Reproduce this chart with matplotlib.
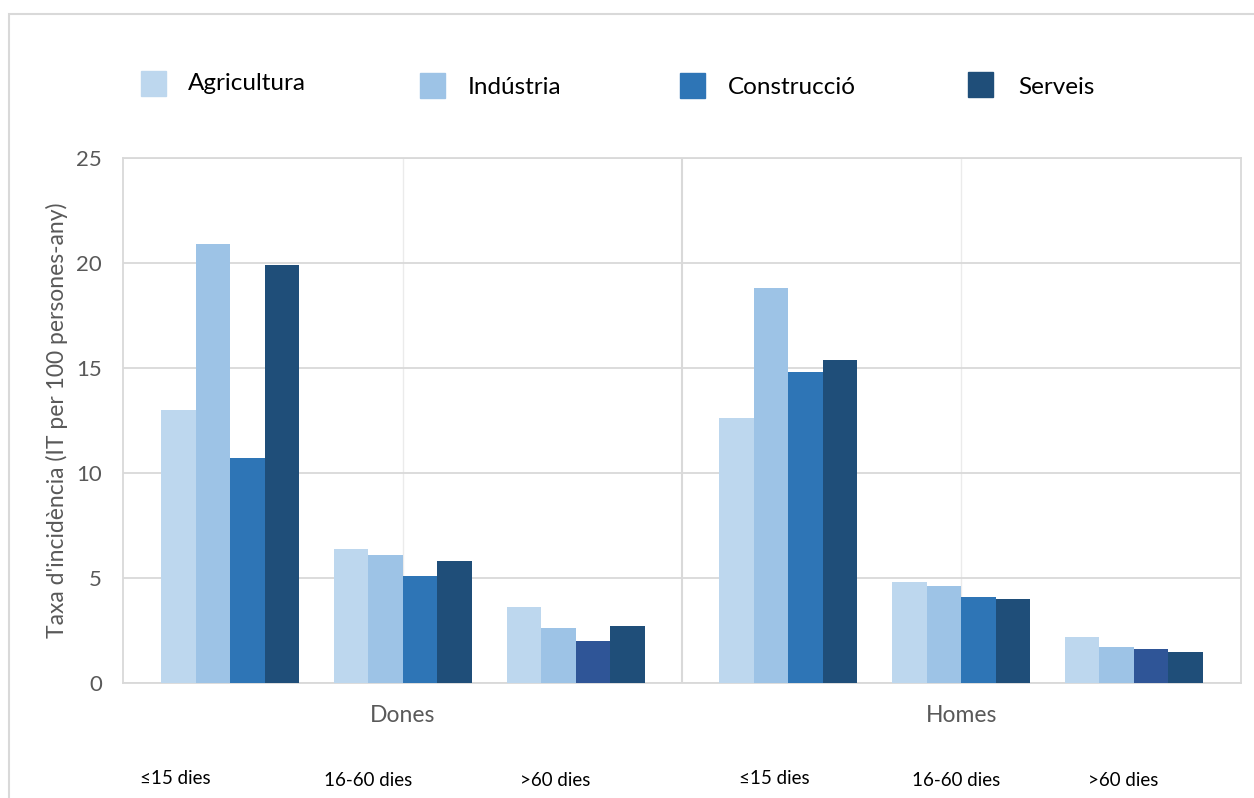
import matplotlib.pyplot as plt
import numpy as np

plt.rcParams['font.family'] = ['Lato', 'DejaVu Sans']

sectors = ['Agricultura', 'Indústria', 'Construcció', 'Serveis']
durations = ['≤15 dies', '16-60 dies', '>60 dies']
sexes = ['Dones', 'Homes']

# rows: ≤15, 16-60, >60 ; columns: sectors
dones = [[13.0, 20.9, 10.7, 19.9],
         [6.4, 6.1, 5.1, 5.8],
         [3.6, 2.6, 2.0, 2.7]]
homes = [[12.6, 18.8, 14.8, 15.4],
         [4.8, 4.6, 4.1, 4.0],
         [2.2, 1.7, 1.6, 1.5]]

colors = ['#BDD7EE', '#9DC3E6', '#2E75B6', '#1F4E79']
long_constr = '#2F5597'  # construcció bar in the >60 groups

grid_c = '#D9D9D9'
text_c = '#595959'

fig = plt.figure(figsize=(12.54, 7.98), dpi=100)
ax = fig.add_axes([123 / 1254, 1 - 683 / 798, (1241 - 123) / 1254, (683 - 158) / 798])

gap = 1.231
centers = np.array([0, 1, 2, gap + 2, gap + 3, gap + 4])
w = 0.2
values = np.array(dones + homes)
for j in range(4):
    cols = [colors[j]] * 6
    if j == 2:
        cols[2] = long_constr
        cols[5] = long_constr
    ax.bar(centers + (j - 1.5) * w, values[:, j], width=w, color=cols, linewidth=0, zorder=3)

ax.set_xlim(-0.62, centers[-1] + 0.62)
ax.set_ylim(0, 25)
ax.set_yticks(range(0, 26, 5))
ax.set_xticks([])
ax.yaxis.grid(True, color=grid_c, linewidth=1.3, zorder=0)
for xv in [centers[1], centers[4]]:
    ax.axvline(xv, color='#EBEBEB', linewidth=1.0, zorder=0)
ax.axvline((centers[2] + centers[3]) / 2, color=grid_c, linewidth=1.5, zorder=1)
for s in ax.spines.values():
    s.set_color(grid_c)
    s.set_linewidth(1.3)
ax.tick_params(axis='y', length=0, labelsize=16, labelcolor=text_c, pad=15)
ax.set_ylabel("Taxa d'incidència (IT per 100 persones-any)", fontsize=16.5, color=text_c)
ax.yaxis.set_label_coords(-0.049, 0.5)

# sex labels
ax.text(centers[1], -1.55, sexes[0], ha='center', va='center', fontsize=16.5, color=text_c)
ax.text(centers[4], -1.55, sexes[1], ha='center', va='center', fontsize=16.5, color=text_c)

# duration labels (placed as in the original)
dur_x = [175, 368, 555, 774, 956, 1123]
dur_y = [779, 781, 781, 779, 781, 781]
for k in range(6):
    fig.text(dur_x[k] / 1254, 1 - dur_y[k] / 798, durations[k % 3], ha='center', va='center',
             fontsize=13.5, color='black')

# legend drawn by hand
sq_x = [141, 420, 680, 968]
sq_y = [71, 73, 73, 72]
tx_x = [188, 468, 728, 1018]
tx_y = [84, 87, 87, 87]
for k in range(4):
    fig.patches.append(plt.Rectangle((sq_x[k] / 1254, 1 - (sq_y[k] + 25) / 798), 25 / 1254, 25 / 798,
                                     transform=fig.transFigure, color=colors[k], figure=fig))
    fig.text(tx_x[k] / 1254, 1 - tx_y[k] / 798, sectors[k], ha='left', va='center',
             fontsize=17.5, color='black')

# outer chart frame
fig.patches.append(plt.Rectangle((9 / 1254, -0.05), 1.2, 1 - 14 / 798 + 0.05, transform=fig.transFigure,
                                 fill=False, edgecolor=grid_c, linewidth=1.5, figure=fig))

fig.savefig('out.png', dpi=100)
